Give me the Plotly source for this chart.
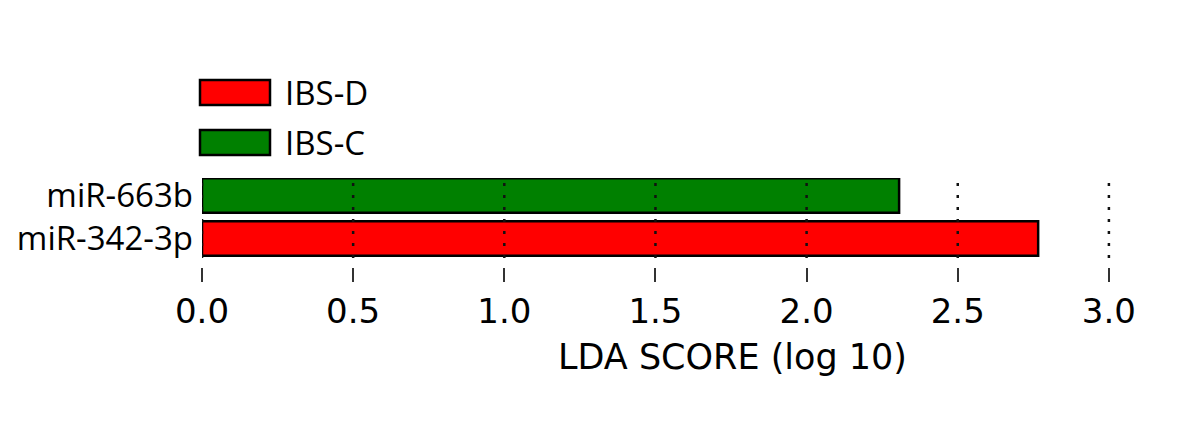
import plotly.graph_objects as go

# LDA scores
features = ['miR-342-3p', 'miR-663b']
lda_scores = [2.766, 2.306]
groups = ['IBS-D', 'IBS-C']
group_colors = {'IBS-D': '#ff0000', 'IBS-C': '#008000'}

x_ticks = [0.0, 0.5, 1.0, 1.5, 2.0, 2.5, 3.0]

# page has an 8px body margin, so the figure is drawn 8px in from the corner
OFF = 8
W, H = 1200 - OFF, 441 - OFF
L, T, B = 202 - OFF, 178 - OFF, 441 - 267
plot_h = H - T - B
plot_w = W - L
unit = 302.3  # px per LDA unit


def py(pix):
    # screenshot pixel row -> paper fraction
    return (H - B - (pix - OFF)) / plot_h


def px(pix):
    return (pix - OFF - L) / plot_w


fig = go.Figure()

fig.add_trace(go.Bar(
    x=lda_scores,
    y=features,
    orientation='h',
    width=0.8,
    marker=dict(color=[group_colors[g] for g in groups],
                line=dict(color='black', width=2.5)),
    showlegend=False,
))

# dotted grid drawn over the bars, like matplotlib
for v in x_ticks:
    fig.add_shape(type='line', xref='x', yref='paper', x0=v, x1=v,
                  y0=py(258), y1=1, layer='above',
                  line=dict(color='#111', width=2.5, dash='3px,9px'))

# legend drawn by hand (wide patches)
for i, name in enumerate(groups):
    top = 80 + i * 50
    fig.add_shape(type='rect', xref='paper', yref='paper',
                  x0=px(200), x1=px(270), y0=py(top + 25), y1=py(top),
                  fillcolor=group_colors[name], line=dict(color='black', width=2.5))
    fig.add_annotation(x=px(283), y=py(top + 12.5), xref='paper', yref='paper',
                       text=name, showarrow=False, xanchor='left', yanchor='middle',
                       font=dict(family='Open Sans', size=33, color='black'))

# axis title centred where matplotlib put it (axes run past the crop)
fig.add_annotation(x=px(732), y=py(357), xref='paper', yref='paper',
                   text='LDA SCORE (log 10)', showarrow=False,
                   xanchor='center', yanchor='middle',
                   font=dict(family='DejaVu Sans', size=35, color='black'))

fig.update_layout(
    width=W, height=H,
    margin=dict(l=L, r=0, t=T, b=B, autoexpand=False),
    paper_bgcolor='white', plot_bgcolor='white',
    xaxis=dict(
        range=[0, plot_w / unit],
        tickvals=x_ticks,
        ticktext=[f'{v:.1f}' for v in x_ticks],
        ticks='outside', ticklen=14, tickwidth=1.5, tickcolor='#333',
        ticklabelstandoff=0,
        showgrid=False, showline=False, zeroline=False,
        anchor='free', position=0,
        tickfont=dict(family='DejaVu Sans', size=34, color='black'),
    ),
    yaxis=dict(
        domain=[py(258), 1],
        range=[-0.453, 1.407],
        showgrid=False, zeroline=False, showline=False,
        ticks='', ticklabelstandoff=8,
        tickfont=dict(family='Open Sans', size=33, color='black'),
    ),
)

fig.write_html("out.html")
